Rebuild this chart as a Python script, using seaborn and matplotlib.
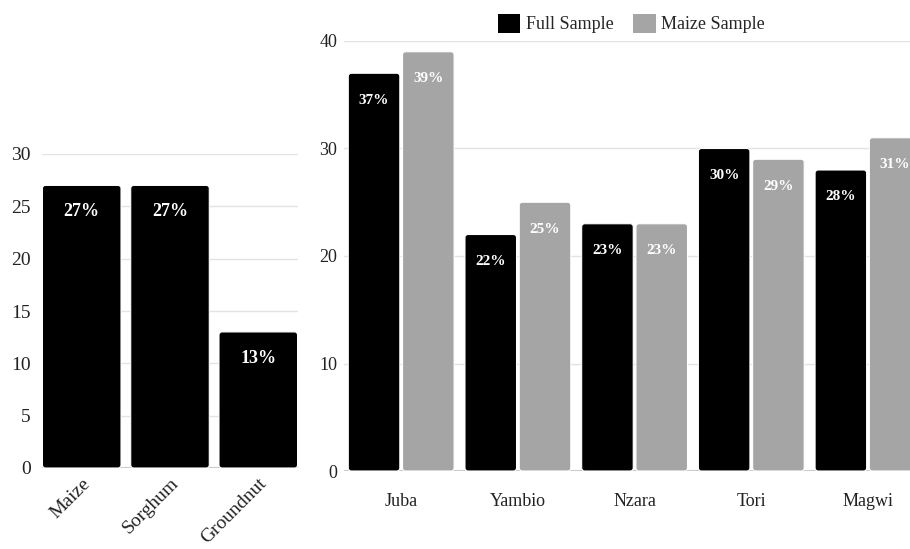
import matplotlib
matplotlib.use('Agg')
import matplotlib.pyplot as plt
import matplotlib.transforms as mtransforms
import seaborn as sns
import pandas as pd
from matplotlib.patches import Patch, FancyBboxPatch

# crop shares (left panel)
crops = ['Maize', 'Sorghum', 'Groundnut']
crop_values = [27, 27, 13]

# county shares (right panel)
counties = ['Juba', 'Yambio', 'Nzara', 'Tori', 'Magwi']
full_sample = [37, 22, 23, 30, 28]
maize_sample = [39, 25, 23, 29, 31]
series_names = ['Full Sample', 'Maize Sample']
series_colors = ['#000000', '#a5a5a5']

sns.set_theme(style="whitegrid")
plt.rcParams['font.family'] = ['Liberation Serif', 'DejaVu Serif']

fig = plt.figure(figsize=(9.1, 5.49), dpi=100)
ax1 = fig.add_axes([42 / 910, 81 / 549, 256 / 910, 314 / 549])
ax2 = fig.add_axes([344 / 910, 78 / 549, 566 / 910, 430 / 549])


def round_bars(ax, radius_px=3):
    """Swap plain bars for ones with slightly rounded corners"""
    fig.canvas.draw()
    x0, x1 = ax.get_xlim()
    y0, y1 = ax.get_ylim()
    bb = ax.get_window_extent()
    rx = radius_px * (x1 - x0) / bb.width
    ry = radius_px * (y1 - y0) / bb.height
    for c in ax.containers:
        for p in c.patches:
            new = FancyBboxPatch((p.get_x(), p.get_y()), p.get_width(), p.get_height(),
                                 boxstyle=f"round,pad=0,rounding_size={rx}",
                                 mutation_aspect=ry / rx,
                                 facecolor=p.get_facecolor(), edgecolor='white',
                                 linewidth=0.8, zorder=p.get_zorder())
            ax.add_patch(new)
            p.set_visible(False)


# left panel
df_crop = pd.DataFrame({'crop': crops, 'value': crop_values})
sns.barplot(data=df_crop, x='crop', y='value', color='#000000', width=0.89,
            edgecolor='white', linewidth=0.8, saturation=1, ax=ax1)
for c in ax1.containers:
    ax1.bar_label(c, labels=[f"{v}%" for v in crop_values], padding=-25,
                  color='white', fontweight='bold', fontsize=13)
ax1.set_ylim(0, 30)
ax1.set_yticks(range(0, 31, 5))
ax1.set_xlim(-0.45, 2.45)
ax1.set_xlabel('')
ax1.set_ylabel('')
ax1.tick_params(axis='x', labelrotation=45, labelsize=14, pad=5)
ax1.tick_params(axis='y', labelsize=14, pad=8)
shift = mtransforms.ScaledTranslation(6 / 72, 0, fig.dpi_scale_trans)
for lbl in ax1.get_xticklabels():
    lbl.set_ha('right')
    lbl.set_rotation_mode('anchor')
    lbl.set_transform(lbl.get_transform() + shift)

# right panel
df_county = pd.DataFrame({
    'county': counties * 2,
    'series': [series_names[0]] * len(counties) + [series_names[1]] * len(counties),
    'value': full_sample + maize_sample,
})
sns.barplot(data=df_county, x='county', y='value', hue='series',
            palette=series_colors, width=0.93, gap=0.05, saturation=1,
            edgecolor='white', linewidth=0.8, ax=ax2, legend=False)
for c, vals in zip(ax2.containers, [full_sample, maize_sample]):
    ax2.bar_label(c, labels=[f"{v}%" for v in vals], padding=-24,
                  color='white', fontweight='bold', fontsize=11)
ax2.set_ylim(0, 40)
ax2.set_yticks(range(0, 41, 10))
ax2.set_xlim(-0.49, 4.36)
ax2.set_xlabel('')
ax2.set_ylabel('')
ax2.tick_params(axis='x', labelsize=13, pad=16)
ax2.tick_params(axis='y', labelsize=13, pad=5)

for ax in (ax1, ax2):
    sns.despine(ax=ax, left=True, bottom=True, top=True, right=True)
    ax.grid(axis='x', visible=False)
    ax.grid(axis='y', color='#e3e3e3', linewidth=1)
    ax.axhline(0, color='#c6c6c6', linewidth=1.5, zorder=0.5)
    ax.tick_params(axis='y', length=0, colors='#222222')
    ax.tick_params(axis='x', length=0, colors='#222222')
    ax.set_axisbelow(True)

round_bars(ax1)
round_bars(ax2)

handles = [Patch(facecolor=col, edgecolor='none', label=n)
           for col, n in zip(series_colors, series_names)]
fig.legend(handles=handles, loc='center', bbox_to_anchor=(0.694, 0.957), ncol=2,
           frameon=False, fontsize=13, handlelength=1.25, handleheight=1.25,
           handletextpad=0.3, columnspacing=1.1)

fig.savefig('out.png', dpi=100)
